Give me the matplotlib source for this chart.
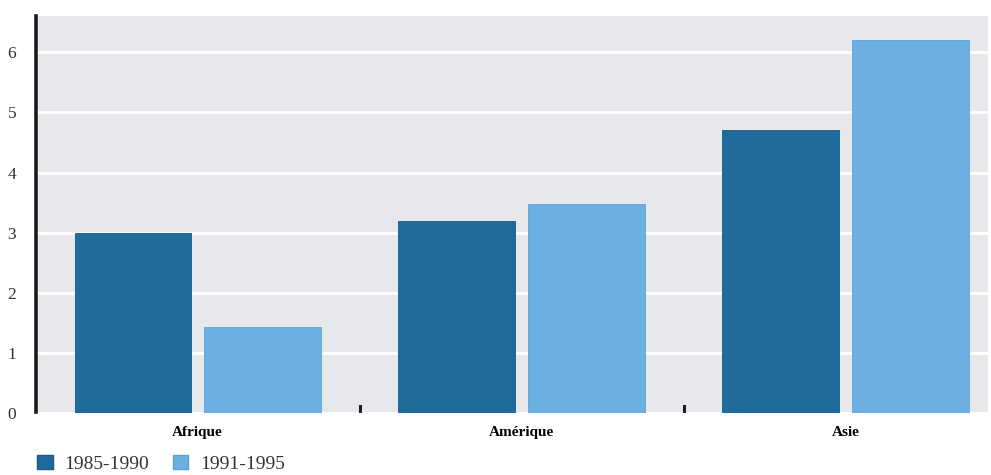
import numpy as np
import matplotlib.pyplot as plt
from matplotlib.patches import Patch

# Données
regions = ["Afrique", "Amérique", "Asie"]
periode_1 = [3.0, 3.2, 4.7]    # 1985-1990
periode_2 = [1.43, 3.48, 6.2]  # 1991-1995
labels = ["1985-1990", "1991-1995"]

fonce = "#1f6b9c"
clair = "#6cb0e2"
fond = "#e6e8eb"

plt.rcParams['font.family'] = ['Liberation Serif', 'DejaVu Serif']

fig = plt.figure(figsize=(9.91, 4.75), dpi=100)
ax = fig.add_axes([0.036, 0.13, 0.961, 0.836])
ax.set_facecolor(fond)

x = np.arange(len(regions))
w = 0.36
ax.bar(x - 0.2, periode_1, w, color=fonce, edgecolor="#185a85", linewidth=0.6, zorder=3)
ax.bar(x + 0.2, periode_2, w, color=clair, edgecolor="#5ea2d4", linewidth=0.6, zorder=3)

ax.set_xlim(-0.5, 2.44)
ax.set_ylim(0, 6.6)
ax.set_yticks(range(0, 7))
ax.yaxis.grid(True, color="white", linewidth=2, zorder=1)
ax.tick_params(axis="y", length=0, pad=14, labelsize=12.5, labelcolor="#333333")

# étiquettes des régions et séparateurs
ax.set_xticks(x)
ax.set_xticklabels(regions, fontweight="bold", fontsize=11)
ax.tick_params(axis="x", length=0, pad=9)
for sep in [0.5, 1.5]:
    ax.plot([sep, sep], [0.01, 0.12], color="#222222", linewidth=2.2, zorder=4)

for s in ["top", "right", "bottom"]:
    ax.spines[s].set_visible(False)
ax.spines["left"].set_linewidth(2.6)
ax.spines["left"].set_color("#1a1a1a")
ax.spines["left"].set_bounds(0.02, 6.6)

handles = [Patch(facecolor=fonce, edgecolor="#185a85"), Patch(facecolor=clair, edgecolor="#5ea2d4")]
fig.legend(handles, labels, loc="lower left", bbox_to_anchor=(0.02, -0.032), ncol=2,
           frameon=False, fontsize=14, handlelength=0.8, handleheight=0.8,
           handletextpad=0.6, columnspacing=1.2, labelcolor="#333333")

fig.savefig("out.png", dpi=100)
